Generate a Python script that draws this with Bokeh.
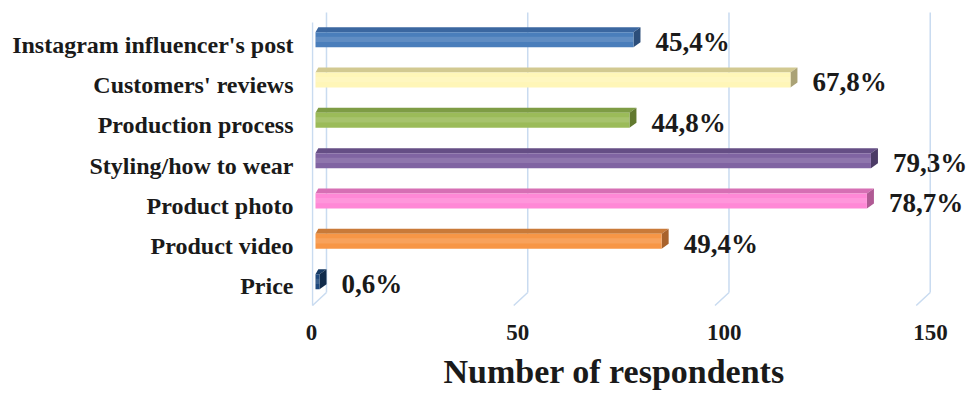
from bokeh.plotting import figure
from bokeh.models import Range1d, FixedTicker, ColumnDataSource, LinearAxis, Title
from bokeh.core.properties import value
from bokeh.embed import file_html
from bokeh.resources import INLINE

# ---- data ----
categories = ["Instagram influencer's post", "Customers' reviews", "Production process",
              "Styling/how to wear", "Product photo", "Product video", "Price"]
respondents = [79, 118, 78, 138, 137, 86, 1]
percent_labels = ["45,4%", "67,8%", "44,8%", "79,3%", "78,7%", "49,4%", "0,6%"]
x_ticks = [0, 50, 100, 150]
axis_title = "Number of respondents"

front_colors = ["#4a7ebb", "#fff6b8", "#9bbb59", "#8064a2", "#ff88d6", "#f79646", "#1f497d"]
top_colors = ["#3b67a0", "#d2c991", "#7e9c45", "#654e85", "#d66fb4", "#c97a39", "#173a63"]
side_colors = ["#2c4e7a", "#aaa276", "#62792f", "#4c3b66", "#b05a94", "#a8622c", "#102b4a"]

FONT = value("Liberation Serif")

n = len(categories)
ypos = [n - 1 - i for i in range(n)]

p = figure(frame_width=655, frame_height=314, output_backend="svg", toolbar_location=None,
           x_range=Range1d(-0.994, 161.74), y_range=Range1d(-0.893, 6.893),
           x_axis_location=None,
           min_border_left=311, min_border_right=1, min_border_top=8, min_border_bottom=0)
p.outline_line_color = None
p.grid.visible = False
p.background_fill_color = "white"
# front floor edge scale (perspective: slightly wider than the bar plane)
p.extra_x_ranges = {"floor": Range1d(0, 158.7)}

# 3D wall geometry (in data units)
dxw = 2.73       # back wall offset
dxf = -0.745     # front floor edge offset
y_top_back, y_bot_back, y_bot_front = 6.794, -0.149, -0.471
grid_color = "#c9dbf0"

gx = [t + dxw for t in x_ticks]
fx = [t + dxf for t in x_ticks]
p.segment(x0=gx, y0=[y_top_back] * len(gx), x1=gx, y1=[y_bot_back] * len(gx),
          line_color=grid_color, line_width=1.5)
p.segment(x0=gx, y0=[y_bot_back] * len(gx), x1=fx, y1=[y_bot_front] * len(gx),
          line_color=grid_color, line_width=1.5)
p.segment(x0=[dxf], y0=[6.546], x1=[dxf], y1=[y_bot_front], line_color=grid_color, line_width=1.5)

# bars
hf = 0.372
dx, dy = 1.74, 0.124
fb = [y + 0.119 - hf / 2 for y in ypos]
ft = [y + 0.119 + hf / 2 for y in ypos]

top_xs = [[0, v, v + dx, dx * 0.4] for v in respondents]
top_ys = [[t, t, t + dy, t + dy] for t in ft]
side_xs = [[v, v, v + dx, v + dx] for v in respondents]
side_ys = [[b, t, t + dy, b + dy] for b, t in zip(fb, ft)]

p.patches(xs=top_xs, ys=top_ys, fill_color=top_colors, line_color=None)
p.patches(xs=side_xs, ys=side_ys, fill_color=side_colors, line_color=None)
p.quad(left=[0] * n, right=respondents, bottom=fb, top=ft,
       fill_color=front_colors, line_color=None)
p.quad(left=[0] * n, right=respondents,
       bottom=[b + hf * 0.35 for b in fb], top=[b + hf * 0.7 for b in fb],
       fill_color="white", fill_alpha=0.12, line_color=None)

# value labels
src = ColumnDataSource(dict(x=[v + 5.47 for v in respondents],
                            y=[y + 0.062 for y in ypos], t=percent_labels))
p.text(x="x", y="y", text="t", source=src, text_font=FONT, text_font_style="bold",
       text_font_size="27px", text_baseline="middle", text_align="left", text_color="#1a1a1a")

# x axis on the floor scale
xa = LinearAxis(x_range_name="floor")
xa.ticker = FixedTicker(ticks=x_ticks)
xa.axis_line_color = None
xa.major_tick_line_color = None
xa.minor_tick_line_color = None
xa.major_tick_out = 0
xa.major_label_text_font = "Liberation Serif"
xa.major_label_text_font_style = "bold"
xa.major_label_text_font_size = "23px"
xa.major_label_text_color = "#1a1a1a"
xa.major_label_standoff = 2
p.add_layout(xa, "below")

t = Title(text=axis_title, align="left", offset=132, standoff=17,
          text_font="Liberation Serif", text_font_style="bold",
          text_font_size="34px", text_color="#1a1a1a")
p.add_layout(t, "below")

# y axis
ya = p.yaxis[0]
ya.ticker = FixedTicker(ticks=ypos)
ya.major_label_overrides = {y: c for y, c in zip(ypos, categories)}
ya.axis_line_color = None
ya.major_tick_line_color = None
ya.minor_tick_line_color = None
ya.major_tick_out = 0
ya.major_label_text_font = "Liberation Serif"
ya.major_label_text_font_style = "bold"
ya.major_label_text_font_size = "24px"
ya.major_label_text_color = "#1a1a1a"
ya.major_label_standoff = 18

open("out.html", "w").write(file_html(p, INLINE))
